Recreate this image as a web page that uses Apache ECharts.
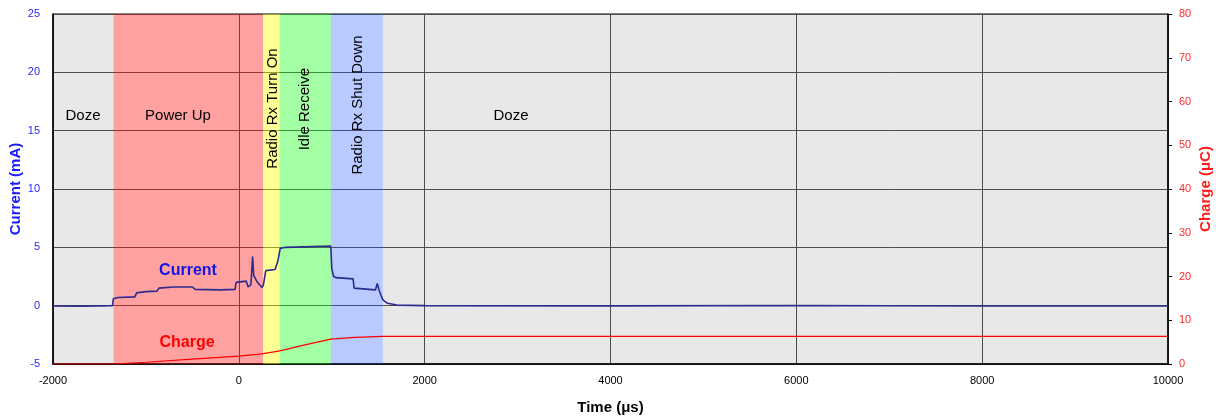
<!DOCTYPE html>
<html lang="en" style="height: 100%">
<head>
  <meta charset="utf-8">
  <title>radio rx current</title>
  <script src="https://cdn.jsdelivr.net/npm/echarts/dist/echarts.min.js"></script>
</head>
<body style="height: 100%; margin: 0; background: #fff">
  <div id="container" style="width: 1216px; height: 416px"></div>
  <script type="text/javascript">
    // current trace (us, mA)
    var currentTime = [-2000, -1700, -1360, -1350, -1300, -1120, -1100, -1000, -880, -860, -700, -500, -470, -200, -40, -30, 80, 100, 130, 148, 160, 200, 250, 265, 290, 390, 420, 445, 500, 990, 1000, 1020, 1050, 1230, 1240, 1470, 1490, 1510, 1550, 1600, 1700, 2000, 4000, 6000, 8000, 10000];
    var currentValue = [-0.03, -0.05, 0.0, 0.6, 0.7, 0.75, 1.1, 1.2, 1.25, 1.5, 1.6, 1.6, 1.4, 1.35, 1.4, 2.0, 2.1, 1.6, 1.8, 4.2, 2.6, 2.0, 1.55, 1.8, 3.0, 3.1, 3.8, 4.9, 5.0, 5.1, 3.2, 2.5, 2.4, 2.3, 1.5, 1.35, 1.9, 1.3, 0.5, 0.2, 0.05, 0.0, -0.02, 0.02, -0.03, -0.03];
    // accumulated charge (us, uC)
    var chargeTime = [-2000, -1350, -1000, -500, 0, 250, 440, 700, 990, 1250, 1550, 10000];
    var chargeValue = [0, 0, 0.4, 1.1, 1.8, 2.3, 3.0, 4.3, 5.7, 6.1, 6.3, 6.3];

    // phases
    var bandNames = ['Doze', 'Power Up', 'Radio Rx Turn On', 'Idle Receive', 'Radio Rx Shut Down', 'Doze'];
    var bandStart = [-2000, -1350, 260, 440, 990, 1550];
    var bandEnd = [-1350, 260, 440, 990, 1550, 10000];
    var bandColors = ['rgba(0,0,0,0.09)', 'rgba(255,0,0,0.37)', 'rgba(255,255,0,0.42)', 'rgba(0,255,0,0.36)', 'rgba(0,64,255,0.28)', 'rgba(0,0,0,0.09)'];
    var labelX = [-1677, -655, 366, 711, 1282, 2929];
    var labelY = [16.25, 16.25, 16.9, 16.85, 17.2, 16.25];
    var labelRotate = [0, 0, 90, 90, 90, 0];

    var font = '"Liberation Sans", Arial, sans-serif';

    var dom = document.getElementById('container');
    var myChart = echarts.init(dom, null, { renderer: 'canvas' });

    var currentData = currentTime.map(function (t, i) { return [t, currentValue[i]]; });
    var chargeData = chargeTime.map(function (t, i) { return [t, chargeValue[i]]; });

    var areas = bandNames.map(function (n, i) {
      return [{ xAxis: bandStart[i], itemStyle: { color: bandColors[i] } }, { xAxis: bandEnd[i] }];
    });
    var bandLabels = bandNames.map(function (n, i) {
      return {
        coord: [labelX[i], labelY[i]],
        label: { formatter: n, rotate: labelRotate[i] }
      };
    });

    var option = {
      animation: false,
      textStyle: { fontFamily: font },
      grid: {
        left: 53, right: 48, top: 14, bottom: 52,
        outerBoundsMode: 'none', containLabel: false,
        show: true, backgroundColor: '#fff', borderColor: '#000', borderWidth: 1
      },
      xAxis: {
        type: 'value', min: -2000, max: 10000, interval: 2000,
        name: 'Time (μs)', nameLocation: 'middle', nameGap: 36, nameMoveOverlap: false,
        nameTextStyle: { fontFamily: font, fontWeight: 'bold', fontSize: 15, color: '#000' },
        axisLine: { onZero: false, lineStyle: { color: '#000', width: 1.5 } },
        axisTick: { show: false },
        axisLabel: { color: '#000', fontSize: 11, margin: 11, fontFamily: font, formatter: function (v) { return String(v); } },
        splitLine: { lineStyle: { color: '#555', width: 1 } }
      },
      yAxis: [
        {
          type: 'value', min: -5, max: 25, interval: 5,
          name: 'Current (mA)', nameLocation: 'middle', nameGap: 30, nameRotate: 90, nameMoveOverlap: false,
          nameTextStyle: { fontFamily: font, fontWeight: 'bold', fontSize: 15, color: '#1a1aff' },
          axisLine: { show: true, onZero: false, lineStyle: { color: '#000', width: 1.5 } },
          axisTick: { show: false },
          axisLabel: { color: '#2a2aff', fontSize: 11, margin: 13, fontFamily: font },
          splitLine: { lineStyle: { color: '#555', width: 1 } }
        },
        {
          type: 'value', min: 0, max: 80, interval: 10,
          name: 'Charge (μC)', nameLocation: 'middle', nameGap: 30, nameRotate: 90, nameMoveOverlap: false,
          nameTextStyle: { fontFamily: font, fontWeight: 'bold', fontSize: 15, color: '#ff1a1a' },
          axisLine: { show: true, onZero: false, lineStyle: { color: '#000', width: 1.5 } },
          axisTick: { show: true, length: 4, lineStyle: { color: '#000' } },
          axisLabel: { color: '#ff2a2a', fontSize: 11, margin: 11, fontFamily: font },
          splitLine: { show: false }
        }
      ],
      series: [
        {
          name: 'Current', type: 'line', data: currentData, yAxisIndex: 0,
          showSymbol: false, z: 2,
          lineStyle: { color: '#2b2b8f', width: 1.6 }
        },
        {
          name: 'Charge', type: 'line', data: chargeData, yAxisIndex: 1,
          showSymbol: false, z: 2,
          lineStyle: { color: '#ff0000', width: 1.2 }
        },
        {
          name: 'bands', type: 'line', data: [], z: 5, silent: true,
          markArea: { silent: true, data: areas }
        },
        {
          name: 'labels', type: 'line', data: [], z: 6, silent: true,
          markPoint: {
            silent: true, symbol: 'circle', symbolSize: 0,
            label: {
              show: true, position: 'inside', color: '#000', fontSize: 15,
              fontFamily: font, align: 'center', verticalAlign: 'middle'
            },
            data: bandLabels.concat([
              { coord: [-547, 2.97], label: { formatter: 'Current', color: '#1414e6', fontWeight: 'bold', fontSize: 16 } },
              { coord: [-558, -3.2], label: { formatter: 'Charge', color: '#ff0000', fontWeight: 'bold', fontSize: 16 } }
            ])
          }
        }
      ]
    };

    myChart.setOption(option);
    window.addEventListener('resize', myChart.resize);
  </script>
</body>
</html>
